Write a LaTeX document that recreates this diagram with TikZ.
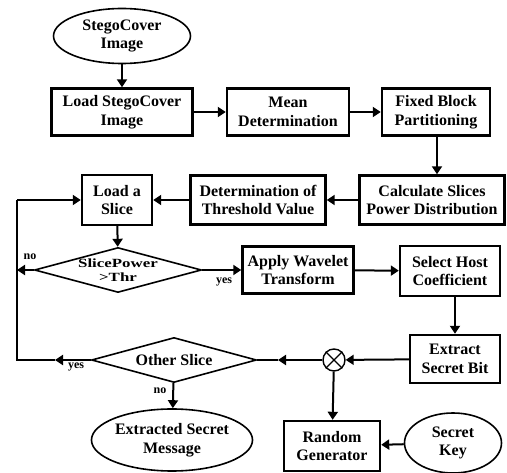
\documentclass[tikz,border=0pt]{standalone}
\usepackage{fontspec}
\setmainfont{Liberation Serif}
\newfontfamily\widefont[FakeStretch=1.35]{Liberation Serif}
\usetikzlibrary{shapes.geometric,arrows.meta}
\tikzset{
  box/.style={draw, line width=2.4pt, align=center, inner sep=0pt,
    font=\fontsize{16}{18.5}\selectfont\bfseries},
  ell/.style={draw, ellipse, line width=1.6pt, align=center, inner sep=0pt,
    font=\fontsize{16}{18.5}\selectfont\bfseries},
  dia/.style={draw, diamond, line width=1.6pt, inner sep=0pt},
  diatext/.style={align=center, inner sep=0pt},
  conn/.style={line width=2pt},
  arr/.style={line width=2pt, -{Triangle[length=8pt,width=10pt]}},
  lab/.style={font=\fontsize{12}{13}\selectfont\bfseries, inner sep=0pt},
}
\begin{document}
\begin{tikzpicture}[x=1pt,y=-1pt]
\useasboundingbox (0,0) rectangle (507,473);
% nodes
\node[ell, minimum width=137pt, minimum height=55pt] (e1) at (122,36) {StegoCover\\Image};
\node[box, minimum width=141pt, minimum height=47pt] (b1) at (122,112) {Load StegoCover\\Image};
\node[box, minimum width=122pt, minimum height=47pt] (b2) at (288,112) {Mean\\Determination};
\node[box, minimum width=108pt, minimum height=47pt] (b3) at (436,112) {Fixed Block\\Partitioning};
\node[box, minimum width=145pt, minimum height=49pt] (b4) at (432,200) {Calculate Slices\\Power Distribution};
\node[box, minimum width=135pt, minimum height=49pt] (b5) at (258,200) {Determination of\\Threshold Value};
\node[box, minimum width=70pt, minimum height=50pt] (b6) at (117,200) {Load a\\Slice};
\node[dia, minimum width=167pt, minimum height=45pt] (d1) at (118,270) {};
\node[diatext, font=\fontsize{12.5}{13.5}\selectfont\widefont\bfseries] at (d1) {SlicePower\\>Thr};
\node[box, minimum width=111pt, minimum height=47pt] (b7) at (298,270) {Apply Wavelet\\Transform};
\node[box, minimum width=100pt, minimum height=50pt] (b8) at (450,271) {Select Host\\Coefficient};
\node[box, minimum width=90pt, minimum height=48pt] (b9) at (455,359) {Extract\\Secret Bit};
\node[draw, circle, line width=1.4pt, minimum size=22pt, inner sep=0pt] (x) at (334,360) {};
\draw[line width=1.4pt] (x.north west) -- (x.south east) (x.north east) -- (x.south west);
\node[dia, minimum width=165pt, minimum height=45pt] (d2) at (174,360) {};
\node[diatext, font=\fontsize{16}{18.5}\selectfont\bfseries] at (d2) {Other Slice};
\node[ell, minimum width=150pt, minimum height=62pt] (e2) at (172,440) {Extracted Secret\\Message};
\node[box, minimum width=96pt, minimum height=50pt] (b10) at (332,446) {Random\\Generator};
\node[ell, minimum width=97pt, minimum height=60pt] (e3) at (453,443) {Secret\\Key};
% coordinates
\coordinate (lb) at (17,360);
\coordinate (ma) at (55,360);
\coordinate (mb) at (278,360);
\coordinate (t3) at (437,112);
% connectors
\draw[arr] (e1) -- (b1);
\draw[arr] (b1) -- (b2);
\draw[arr] (b2) -- (b3);
\draw[arr] (t3 |- b3.south) -- (t3 |- b4.north);
\draw[arr] (b4) -- (b5);
\draw[arr] (b5) -- (b6);
\draw[arr] (b6) -- (d1);
\draw[arr] (d1) -- (b7);
\draw[arr] (b7) -- (b8);
\draw[arr] (b9.north |- b8.south) -- (b9.north);
\draw[arr] (b9) -- (x);
\draw[arr] (x) -- (mb);
\draw[conn] (mb) -- (d2.east);
\draw[arr] (d2.west) -- (ma);
\draw[conn] (ma) -- (lb) -- (lb |- b6);
\draw[arr] (lb |- b6) -- (b6.west);
\draw[arr] (d1.west) -- (lb |- d1);
\draw[arr] (d2) -- (e2);
\draw[arr] (x) -- (b10);
\draw[arr] (e3) -- (b10);
% labels
\node[lab] at (30,257) {no};
\node[lab] at (224,282) {yes};
\node[lab] at (76,367) {yes};
\node[lab] at (160,391) {no};
\end{tikzpicture}
\end{document}
